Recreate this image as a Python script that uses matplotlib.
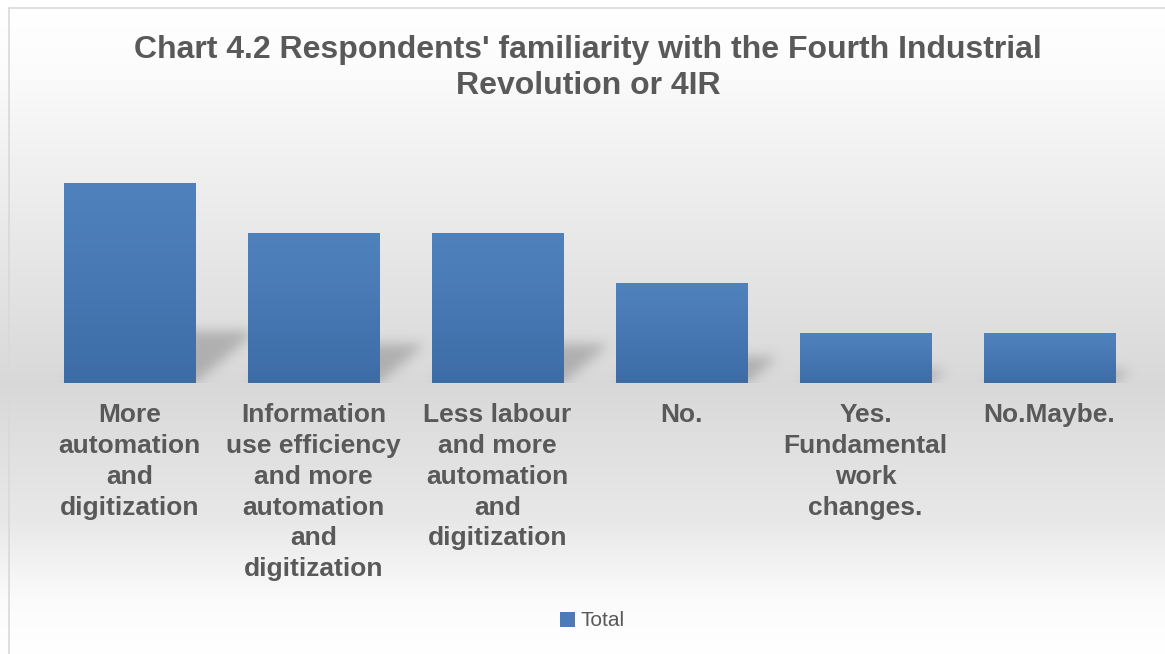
import numpy as np
import matplotlib
matplotlib.use('Agg')
import matplotlib.pyplot as plt
from matplotlib.patches import Patch

plt.rcParams['font.family'] = ['Liberation Sans', 'DejaVu Sans']

# Data
categories = [
    "More\nautomation\nand\ndigitization",
    "Information\nuse efficiency\nand more\nautomation\nand\ndigitization",
    "Less labour\nand more\nautomation\nand\ndigitization",
    "No.",
    "Yes.\nFundamental\nwork\nchanges.",
    "No.Maybe.",
]
totals = [4, 3, 3, 2, 1, 1]
series_name = "Total"
title = "Chart 4.2 Respondents' familiarity with the Fourth Industrial\nRevolution or 4IR"

W, H = 1165, 654
fig = plt.figure(figsize=(W / 100, H / 100), dpi=100)

# Background gradient (chart area starts at x=8, y=7)
bg = fig.add_axes([0, 0, 1, 1], zorder=-10)
rows = np.arange(H)
stops_y = [0, 7, 60, 180, 383, 520, 600, H]
stops_v = [1.0, 1.0, 0.99, 0.935, 0.85, 0.91, 0.985, 1.0]
col = np.interp(rows, stops_y, stops_v)
img = np.repeat(col[:, None], W, axis=1)
img = np.dstack([img, img, img])
bg.imshow(img, extent=(0, W, H, 0), aspect='auto', interpolation='bilinear')
bg.plot([8.5, 8.5], [H, 7.5], color='#d9d9d9', lw=1.2)
bg.plot([8.5, W + 5], [7.5, 7.5], color='#d9d9d9', lw=1.2)
bg.set_xlim(0, W)
bg.set_ylim(H, 0)
bg.axis('off')

# Main axes
x0, x1 = 37.5, 1141.5
ybase, ytop = 383, 133
ax = fig.add_axes([x0 / W, 1 - ybase / H, (x1 - x0) / W, (ybase - ytop) / H])
ax.patch.set_alpha(0)
xs = np.arange(len(categories))
ymax = 5
width = 0.712
bars = ax.bar(xs, totals, width=width, color='#4a7ab7', zorder=3)

# Gradient fill on bars
grad = np.linspace(0, 1, 256)[:, None]
top_c = np.array([79, 129, 189]) / 255
bot_c = np.array([61, 108, 165]) / 255
gimg = top_c + (bot_c - top_c) * grad ** 1.2
gimg = np.repeat(gimg[:, None, :], 2, axis=1)
for b in bars:
    bx, by, bw, bh = b.get_x(), b.get_y(), b.get_width(), b.get_height()
    im = ax.imshow(gimg, extent=(bx, bx + bw, by, by + bh), aspect='auto',
                   zorder=4, interpolation='bilinear')
    im.set_clip_path(b)

# Soft perspective shadows behind the bars
px_x = (x1 - x0) / len(categories)   # pixels per category
px_y = (ybase - ytop) / ymax          # pixels per unit
sh_h = 1.7
nx, ny = int(x1 - x0), int(sh_h * px_y)
gx = np.linspace(-0.5, len(categories) - 0.5, nx)
gy = np.linspace(0, sh_h, ny)
GX, GY = np.meshgrid(gx, gy)
mask = np.zeros_like(GX)
for b in bars:
    bh = b.get_height()
    dy = 0.26 * bh
    dx = 0.30 * bh * px_y / px_x
    shift = GY / dy * dx
    inside = (GY <= dy) & (GX >= b.get_x() + shift) & (GX <= b.get_x() + b.get_width() + shift)
    mask[inside] = 1.0
k = np.exp(-0.5 * (np.arange(-18, 19) / 6.0) ** 2)
k /= k.sum()
for axis in (0, 1):
    mask = np.apply_along_axis(lambda m: np.convolve(m, k, mode='same'), axis, mask)
shadow = np.zeros((ny, nx, 4))
shadow[..., :3] = 0.45
shadow[..., 3] = mask * 0.42
ax.imshow(shadow, extent=(-0.5, len(categories) - 0.5, 0, sh_h), origin='lower',
          aspect='auto', zorder=2, interpolation='bilinear')
ax.set_xlim(-0.5, len(categories) - 0.5)
ax.set_ylim(0, ymax)

ax.set_xticks(xs)
ax.set_xticklabels(categories, fontsize=19, fontweight='bold', color='#595959',
                   linespacing=1.36)
ax.tick_params(axis='x', length=0, pad=14.5)
ax.set_yticks([])
for s in ax.spines.values():
    s.set_visible(False)

fig.text(0.505, 1 - 68 / H, title, ha='center', va='center', fontsize=23,
         fontweight='bold', color='#595959', linespacing=1.26)

handle = Patch(facecolor='#4a7ab7', edgecolor='none')
fig.legend([handle], [series_name], loc='center', bbox_to_anchor=(592 / W, 1 - 621 / H),
           frameon=False, fontsize=15, handlelength=0.75, handleheight=0.75,
           handletextpad=0.25, labelcolor='#595959')

fig.savefig('out.png', dpi=100)
